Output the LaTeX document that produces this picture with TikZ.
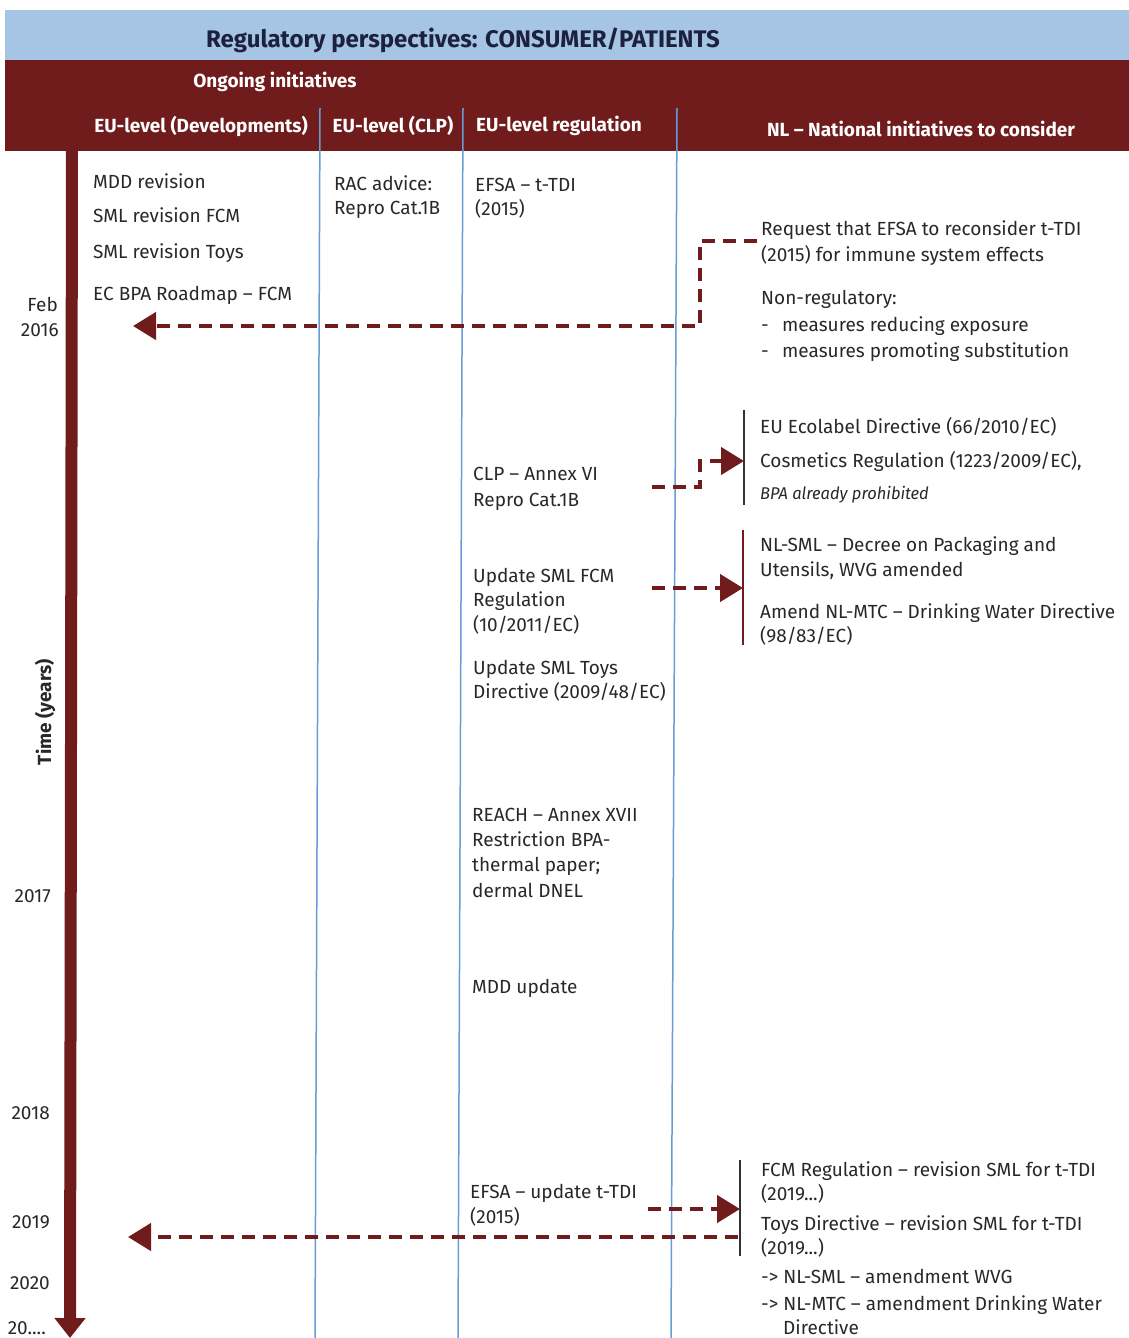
\documentclass[tikz,border=0pt]{standalone}
\usepackage{fontspec}
\setmainfont{Fira Sans}
\usetikzlibrary{arrows.meta}
\definecolor{dred}{RGB}{112,28,28}
\definecolor{hblue}{RGB}{166,196,228}
\definecolor{cblue}{RGB}{105,155,212}
\definecolor{txtc}{RGB}{40,40,40}
\definecolor{navy}{RGB}{28,34,62}
\definecolor{brk}{RGB}{55,50,50}
\tikzset{
  txt/.style={anchor=base west, inner sep=0pt, text=txtc, font=\fontsize{19}{22}\selectfont},
  yr/.style={anchor=base east, inner sep=0pt, text=txtc, font=\fontsize{19}{22}\selectfont},
  hdr/.style={inner sep=0pt, text=white, font=\fontsize{19}{22}\selectfont\bfseries},
  colline/.style={draw=cblue, line width=1.5pt},
  dasharrow/.style={draw=dred, line width=4.5pt, dash pattern=on 13pt off 8pt, -{Triangle[length=23pt,width=27pt]}},
  bracket/.style={line width=2.8pt}
}
\begin{document}
\begin{tikzpicture}[x=1pt,y=-1pt]
\useasboundingbox (0,0) rectangle (1129,1338);
% header bands
\fill[hblue] (5,10) rectangle (1129,60);
\fill[dred] (5,60) rectangle (1129,151);
\node[inner sep=0pt, text=navy, font=\fontsize{24}{28}\selectfont\bfseries] (title) at (463,40) {Regulatory perspectives: CONSUMER/PATIENTS};
\node[hdr] (ongo) at (275,82) {Ongoing initiatives};
\node[hdr] (h1) at (201,126) {EU-level (Developments)};
\node[hdr] (h2) at (393,126) {EU-level (CLP)};
\node[hdr] (h3) at (559,126) {EU-level regulation};
\node[hdr] (h4) at (921,129) {NL -- National initiatives to consider};
% column lines
\coordinate (c1t) at (320,108); \coordinate (c1b) at (315,1338);
\coordinate (c2t) at (463,108); \coordinate (c2b) at (458,1338);
\coordinate (c3t) at (677,108); \coordinate (c3b) at (671,1338);
\draw[colline] (c1t) -- (c1b);
\draw[colline] (c2t) -- (c2b);
\draw[colline] (c3t) -- (c3b);
% time axis
\coordinate (axt) at (72,149); \coordinate (axb) at (70,1338);
\draw[dred, line width=12pt, -{Triangle[length=20pt,width=30pt]}] (axt) -- (axb);
\node[yr] (feb) at (58,311) {Feb};
\node[yr] (y16) at (59,336) {2016};
\node[yr] (y17) at (51,902) {2017};
\node[yr] (y18) at (50,1119) {2018};
\node[yr] (y19) at (50,1228) {2019};
\node[yr] (y20) at (50,1289) {2020};
\node[yr] (y2x) at (46,1334) {20....};
\node[inner sep=0pt, text=txtc, rotate=90, font=\fontsize{19}{22}\selectfont\bfseries] (time) at (45,712) {Time (years)};
% column 1
\node[txt] (m1) at (93,188) {MDD revision};
\node[txt] (m2) at (93,222) {SML revision FCM};
\node[txt] (m3) at (93,258) {SML revision Toys};
\node[txt] (m4) at (93,300) {EC BPA Roadmap -- FCM};
% column 2
\node[txt] (r1) at (334,190) {RAC advice:};
\node[txt] (r2) at (334,214) {Repro Cat.1B};
% column 3
\node[txt] (e1) at (475,191) {EFSA -- t-TDI};
\node[txt] (e2) at (475,215) {(2015)};
\node[txt] (clp1) at (473,480) {CLP -- Annex VI};
\node[txt] (clp2) at (473,506) {Repro Cat.1B};
\node[txt] (u1) at (473,582) {Update SML FCM};
\node[txt] (u2) at (473,606) {Regulation};
\node[txt] (u3) at (473,631) {(10/2011/EC)};
\node[txt] (t1) at (473,674) {Update SML Toys};
\node[txt] (t2) at (473,698) {Directive (2009/48/EC)};
\node[txt] (re1) at (472,821) {REACH -- Annex XVII};
\node[txt] (re2) at (472,846) {Restriction BPA-};
\node[txt] (re3) at (472,871) {thermal paper;};
\node[txt] (re4) at (472,897) {dermal DNEL};
\node[txt] (mdd) at (472,993) {MDD update};
\node[txt] (ef1) at (470,1198) {EFSA -- update t-TDI};
\node[txt] (ef2) at (470,1223) {(2015)};
% column 4
\node[txt] (q1) at (761,235) {Request that EFSA to reconsider t-TDI};
\node[txt] (q2) at (761,261) {(2015) for immune system effects};
\node[txt] (nr) at (761,304) {Non-regulatory:};
\node[txt] (d1) at (761,331) {-};
\node[txt] (nr1) at (782,331) {measures reducing exposure};
\node[txt] (d2) at (761,357) {-};
\node[txt] (nr2) at (782,357) {measures promoting substitution};
\node[txt] (eco) at (760,433) {EU Ecolabel Directive (66/2010/EC)};
\node[txt] (cos) at (760,467) {Cosmetics Regulation (1223/2009/EC),};
\node[txt, font=\fontsize{17}{20}\selectfont\itshape] (bpa) at (760,499) {\scalebox{0.97}[1]{BPA already prohibited}};
\node[txt] (nl1) at (760,551) {NL-SML -- Decree on Packaging and};
\node[txt] (nl2) at (760,576) {Utensils, WVG amended};
\node[txt] (nl3) at (760,618) {Amend NL-MTC -- Drinking Water Directive};
\node[txt] (nl4) at (760,642) {(98/83/EC)};
\node[txt] (f1) at (761,1176) {FCM Regulation -- revision SML for t-TDI};
\node[txt] (f2) at (761,1200) {(2019...)};
\node[txt] (f3) at (761,1230) {Toys Directive -- revision SML for t-TDI};
\node[txt] (f4) at (761,1254) {(2019...)};
\node[txt] (f5) at (761,1283) {-{}> NL-SML -- amendment WVG};
\node[txt] (f6) at (761,1310) {-{}> NL-MTC -- amendment Drinking Water};
\node[txt] (f7) at (783,1334) {Directive};
% brackets
\coordinate (b1t) at (744,410); \coordinate (b1b) at (744,505);
\coordinate (b2t) at (743,530); \coordinate (b2b) at (743,645);
\coordinate (b3t) at (740,1160); \coordinate (b3b) at (740,1256);
\draw[bracket, brk] (b1t) -- (b1b);
\draw[bracket, dred] (b2t) -- (b2b);
\draw[bracket, brk] (b3t) -- (b3b);
% dashed connectors
\coordinate (a1s) at (757,241); \coordinate (a1c1) at (700,241); \coordinate (a1c2) at (700,326); \coordinate (a1e) at (133,326);
\draw[dasharrow] (a1s) -- (a1c1) -- (a1c2) -- (a1e);
\coordinate (a2s) at (652,487); \coordinate (a2c1) at (700,487); \coordinate (a2c2) at (700,461); \coordinate (a2e) at (744,461);
\draw[dasharrow] (a2s) -- (a2c1) -- (a2c2) -- (a2e);
\coordinate (a3s) at (652,588); \coordinate (a3e) at (743,588);
\draw[dasharrow] (a3s) -- (a3e);
\coordinate (a4s) at (648,1209); \coordinate (a4e) at (740,1209);
\draw[dasharrow] (a4s) -- (a4e);
\coordinate (a5s) at (738,1237); \coordinate (a5e) at (128,1237);
\draw[dasharrow] (a5s) -- (a5e);
\end{tikzpicture}
\end{document}
